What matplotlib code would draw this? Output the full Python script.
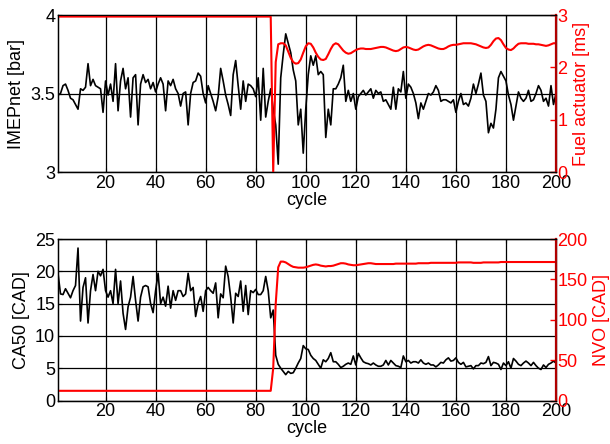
import matplotlib
matplotlib.use("Agg")
import matplotlib.pyplot as plt
import numpy as np

plt.rcParams['font.family'] = ['Liberation Sans', 'DejaVu Sans']

cycles = list(range(1, 201))

imep = [
    3.49, 3.50, 3.55, 3.56, 3.52, 3.47, 3.46, 3.43, 3.40, 3.53,
    3.52, 3.54, 3.69, 3.55, 3.59, 3.55, 3.54, 3.53, 3.38, 3.58,
    3.49, 3.56, 3.45, 3.69, 3.39, 3.58, 3.66, 3.53, 3.60, 3.35,
    3.60, 3.62, 3.30, 3.56, 3.62, 3.57, 3.59, 3.53, 3.57, 3.51,
    3.56, 3.60, 3.56, 3.39, 3.58, 3.55, 3.59, 3.53, 3.50, 3.42,
    3.50, 3.51, 3.30, 3.50, 3.57, 3.58, 3.63, 3.61, 3.50, 3.44,
    3.55, 3.50, 3.45, 3.39, 3.48, 3.66, 3.58, 3.49, 3.43, 3.36,
    3.62, 3.71, 3.55, 3.40, 3.58, 3.45, 3.56, 3.55, 3.53, 3.48,
    3.60, 3.33, 3.66, 3.35, 3.45, 3.53, 3.40, 3.30, 3.05, 3.60,
    3.75, 3.88, 3.82, 3.76, 3.65, 3.58, 3.30, 3.40, 3.12, 3.40,
    3.62, 3.74, 3.68, 3.74, 3.62, 3.64, 3.62, 3.22, 3.40, 3.30,
    3.53, 3.53, 3.56, 3.60, 3.68, 3.45, 3.52, 3.45, 3.50, 3.40,
    3.48, 3.50, 3.52, 3.49, 3.51, 3.53, 3.47, 3.52, 3.50, 3.51,
    3.45, 3.46, 3.43, 3.40, 3.54, 3.40, 3.53, 3.51, 3.64, 3.47,
    3.56, 3.54, 3.50, 3.44, 3.34, 3.44, 3.40, 3.45, 3.50, 3.49,
    3.51, 3.55, 3.52, 3.45, 3.46, 3.46, 3.45, 3.44, 3.46, 3.38,
    3.45, 3.50, 3.43, 3.44, 3.42, 3.47, 3.56, 3.50, 3.56, 3.63,
    3.49, 3.45, 3.25, 3.31, 3.28, 3.40, 3.60, 3.64, 3.61, 3.58,
    3.49, 3.43, 3.33, 3.42, 3.51, 3.47, 3.45, 3.47, 3.52, 3.45,
    3.46, 3.50, 3.55, 3.52, 3.45, 3.47, 3.42, 3.55, 3.43, 3.50,
]

fuel = [
    2.97, 2.97, 2.97, 2.97, 2.97, 2.97, 2.97, 2.97, 2.97, 2.97,
    2.97, 2.97, 2.97, 2.97, 2.97, 2.97, 2.97, 2.97, 2.97, 2.97,
    2.97, 2.97, 2.97, 2.97, 2.97, 2.97, 2.97, 2.97, 2.97, 2.97,
    2.97, 2.97, 2.97, 2.97, 2.97, 2.97, 2.97, 2.97, 2.97, 2.97,
    2.97, 2.97, 2.97, 2.97, 2.97, 2.97, 2.97, 2.97, 2.97, 2.97,
    2.97, 2.97, 2.97, 2.97, 2.97, 2.97, 2.97, 2.97, 2.97, 2.97,
    2.97, 2.97, 2.97, 2.97, 2.97, 2.97, 2.97, 2.97, 2.97, 2.97,
    2.97, 2.97, 2.97, 2.97, 2.97, 2.97, 2.97, 2.97, 2.97, 2.97,
    2.97, 2.97, 2.97, 2.97, 2.97, 2.97, 0.00, 2.10, 2.44, 2.46,
    2.46, 2.42, 2.30, 2.18, 2.10, 2.07, 2.08, 2.15, 2.28, 2.40,
    2.46, 2.45, 2.38, 2.28, 2.20, 2.15, 2.14, 2.16, 2.25, 2.35,
    2.43, 2.46, 2.44, 2.38, 2.32, 2.28, 2.26, 2.27, 2.30, 2.33,
    2.35, 2.36, 2.36, 2.35, 2.35, 2.35, 2.36, 2.37, 2.38, 2.39,
    2.39, 2.38, 2.36, 2.34, 2.32, 2.31, 2.32, 2.35, 2.38, 2.39,
    2.38, 2.36, 2.34, 2.33, 2.34, 2.37, 2.40, 2.42, 2.43, 2.42,
    2.40, 2.38, 2.36, 2.35, 2.35, 2.37, 2.40, 2.42, 2.43, 2.43,
    2.44, 2.45, 2.46, 2.46, 2.46, 2.46, 2.45, 2.44, 2.42, 2.40,
    2.38, 2.37, 2.38, 2.43, 2.50, 2.55, 2.56, 2.52, 2.44, 2.37,
    2.34, 2.33, 2.36, 2.41, 2.45, 2.46, 2.46, 2.46, 2.45, 2.45,
    2.45, 2.44, 2.44, 2.43, 2.42, 2.41, 2.42, 2.44, 2.46, 2.46,
]

ca50 = [
    19.7, 16.5, 16.4, 17.3, 16.6, 15.9, 17.0, 17.8, 23.6, 12.3,
    17.5, 19.0, 12.0, 17.0, 19.5, 17.0, 20.0, 19.3, 20.3, 17.0,
    16.0, 17.0, 15.0, 20.3, 15.0, 18.5, 13.5, 11.0, 14.5, 16.0,
    19.2, 15.5, 12.3, 16.0, 17.6, 17.8, 17.6, 15.0, 13.6, 17.0,
    19.7, 15.0, 16.0, 14.6, 17.7, 14.3, 17.0, 15.5, 17.0, 17.0,
    16.1, 16.5, 19.7, 17.0, 17.5, 13.0, 15.0, 16.1, 13.8, 17.0,
    17.5, 17.0, 16.6, 18.2, 12.8, 16.5, 15.9, 20.8, 19.2, 16.0,
    12.0, 16.6, 16.1, 18.5, 13.8, 17.8, 13.3, 17.0, 16.7, 17.2,
    16.4, 16.4, 17.0, 19.2, 17.0, 12.8, 14.0, 7.0, 5.6, 5.0,
    4.5, 4.0, 4.5, 4.2, 4.3, 5.0, 5.8, 6.5, 8.5, 8.0,
    7.9, 7.0, 6.5, 6.2, 5.6, 5.0, 6.3, 6.0, 6.5, 7.4,
    6.0, 6.0, 5.6, 5.1, 5.3, 5.6, 5.8, 5.6, 6.9, 5.5,
    7.3, 6.6, 6.0, 5.8, 5.7, 5.5, 5.8, 5.5, 5.3, 5.3,
    5.5, 6.2, 5.5, 6.2, 5.8, 5.4, 5.3, 5.1, 6.9, 6.0,
    6.2, 5.8, 6.0, 6.0, 5.8, 6.3, 5.8, 5.6, 5.8, 5.5,
    5.5, 5.2, 5.5, 5.9, 5.8, 6.3, 6.6, 6.1, 6.2, 6.6,
    5.9, 5.6, 5.9, 5.2, 5.3, 5.4, 4.9, 5.4, 5.4, 5.8,
    5.7, 5.9, 6.8, 5.4, 5.9, 5.8, 5.6, 4.8, 5.8, 5.4,
    6.0, 5.0, 6.5, 6.1, 5.6, 5.4, 5.8, 6.1, 5.8, 5.4,
    5.9, 5.4, 5.0, 4.8, 5.5, 5.1, 5.6, 5.8, 6.1, 5.8,
]

nvo = [
    12, 12, 12, 12, 12, 12, 12, 12, 12, 12,
    12, 12, 12, 12, 12, 12, 12, 12, 12, 12,
    12, 12, 12, 12, 12, 12, 12, 12, 12, 12,
    12, 12, 12, 12, 12, 12, 12, 12, 12, 12,
    12, 12, 12, 12, 12, 12, 12, 12, 12, 12,
    12, 12, 12, 12, 12, 12, 12, 12, 12, 12,
    12, 12, 12, 12, 12, 12, 12, 12, 12, 12,
    12, 12, 12, 12, 12, 12, 12, 12, 12, 12,
    12, 12, 12, 12, 12, 12, 40, 120, 165, 172,
    172, 171, 169, 167, 165.5, 165, 164.5, 164.5, 164.5, 165,
    166, 167, 168, 168.5, 168, 167, 166.5, 166, 166.5, 166.5,
    167, 168, 169, 170, 170, 169.5, 168.5, 168, 167.5, 167.5,
    168, 168.5, 169, 169.5, 170, 170, 169.5, 169, 169, 169,
    169, 169, 169, 169, 169, 169.5, 169.5, 169.5, 169.5, 169.5,
    169.5, 169.5, 169.5, 169.5, 170, 170, 170, 170, 170, 170.5,
    170.5, 170.5, 170.5, 170.5, 170.5, 170.5, 170.5, 170.5, 170.5, 170.5,
    171, 171, 171, 171, 171, 171, 170.5, 170.5, 170.5, 170.5,
    171, 171, 171, 171, 171, 171, 171, 171.5, 171.5, 171.5,
    171.5, 171.5, 171.5, 171.5, 171.5, 171.5, 171.5, 171.5, 171.5, 171.5,
    171.5, 171.5, 171.5, 171.5, 171.5, 171.5, 171.5, 171.5, 171.5, 171.5,
]

xticks = [20, 40, 60, 80, 100, 120, 140, 160, 180, 200]
imep_ticks = [3, 3.5, 4]
imep_ticklabels = ['3', '3.5', '4']
fuel_ticks = [0, 1, 2, 3]
ca50_ticks = [0, 5, 10, 15, 20, 25]
nvo_ticks = [0, 50, 100, 150, 200]

RED = '#ff0000'
DARKRED = '#b00000'
FS = 13

fig = plt.figure(figsize=(6.10, 4.44), dpi=100)
fig.patch.set_facecolor('white')


def style_left(ax):
    ax.set_xlim(1, 200)
    ax.set_xticks(xticks)
    ax.tick_params(axis='both', direction='in', top=True, labelsize=FS,
                   length=3, width=0.8, pad=2)
    ax.grid(True, color='black', linewidth=0.9)
    for s in ax.spines.values():
        s.set_linewidth(1.0)
        s.set_color('black')
    ax.set_xlabel('cycle', fontsize=FS, labelpad=0)


def style_right(ax2):
    ax2.tick_params(axis='y', direction='in', colors=RED, labelsize=FS,
                    length=4, width=1.0, pad=1)
    ax2.spines['right'].set_color(DARKRED)
    ax2.spines['right'].set_linewidth(1.6)


# top
ax1 = fig.add_axes([58/610, 1 - 172/444, 498/610, 157/444])
ax1.plot(cycles, imep, color='black', linewidth=1.2)
ax1.set_ylim(3, 4)
ax1.set_yticks(imep_ticks)
ax1.set_yticklabels(imep_ticklabels)
style_left(ax1)
ax1.set_ylabel('IMEPnet [bar]', fontsize=FS, labelpad=4)
ax1b = ax1.twinx()
ax1b.plot(cycles, fuel, color=RED, linewidth=1.5)
ax1b.set_ylim(0, 3)
ax1b.set_yticks(fuel_ticks)
ax1b.set_xlim(1, 200)
style_right(ax1b)
ax1b.set_ylabel('Fuel actuator [ms]', fontsize=FS, color=RED, labelpad=4)

# bottom
ax2 = fig.add_axes([58/610, 1 - 400.5/444, 498/610, 161.5/444])
ax2.plot(cycles, ca50, color='black', linewidth=1.2)
ax2.set_ylim(0, 25)
ax2.set_yticks(ca50_ticks)
style_left(ax2)
ax2.set_ylabel('CA50 [CAD]', fontsize=FS, labelpad=4)
ax2b = ax2.twinx()
ax2b.plot(cycles, nvo, color=RED, linewidth=1.5)
ax2b.set_ylim(0, 200)
ax2b.set_yticks(nvo_ticks)
ax2b.set_xlim(1, 200)
style_right(ax2b)
ax2b.set_ylabel('NVO [CAD]', fontsize=FS, color=RED, labelpad=4)

fig.savefig('out.png', dpi=100, facecolor='white')
